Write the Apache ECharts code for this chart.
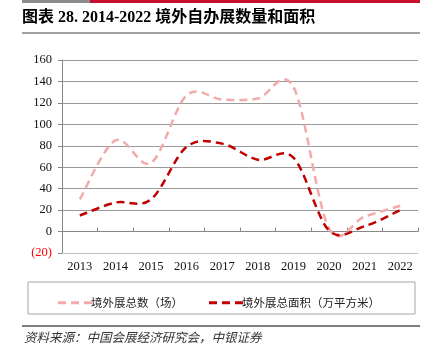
<!DOCTYPE html>
<html><head><meta charset="utf-8">
<script src="https://cdn.jsdelivr.net/npm/echarts@6/dist/echarts.min.js"></script>
<style>html,body{margin:0;padding:0;background:#fff}#c{width:430px;height:358px}</style>
</head><body><div id="c"></div>
<script>
const years = ['2013','2014','2015','2016','2017','2018','2019','2020','2021','2022'];
const countSeries = [30, 85, 64, 127, 123, 124, 135, 3, 14, 24];
const areaSeries = [15, 27, 30, 79, 82, 67, 69, 1, 5, 20];
const yTicks = {min: -20, max: 160, interval: 20};
const nameCount = '境外展总数（场）';
const nameArea = '境外展总面积（万平方米）';
const titleText = '图表 28. 2014-2022 境外自办展数量和面积';
const sourceText = '资料来源：中国会展经济研究会，中银证券';

const serif = "'Liberation Serif','Times New Roman','Noto Sans CJK SC',serif";
const cjk = "'Noto Sans CJK SC',sans-serif";
const PINK = '#f2aaaa', RED = '#c00000';
const dashIcon = 'path://M0 0H8V3H0Z M13 0H21V3H13Z M26 0H34V3H26Z';

// smooth (Catmull-Rom style) curve through the data points, placed via the chart's axes
function smoothRender(values, color) {
  return function (params, api) {
    if (params.dataIndex !== 0) return null;
    const pts = values.map((v, i) => api.coord([i, v]));
    let d = 'M' + pts[0][0] + ' ' + pts[0][1];
    for (let i = 0; i < pts.length - 1; i++) {
      const p0 = pts[Math.max(i - 1, 0)], p1 = pts[i], p2 = pts[i + 1], p3 = pts[Math.min(i + 2, pts.length - 1)];
      const c1x = p1[0] + (p2[0] - p0[0]) / 6, c1y = p1[1] + (p2[1] - p0[1]) / 6;
      const c2x = p2[0] - (p3[0] - p1[0]) / 6, c2y = p2[1] - (p3[1] - p1[1]) / 6;
      d += ' C' + c1x + ' ' + c1y + ' ' + c2x + ' ' + c2y + ' ' + p2[0] + ' ' + p2[1];
    }
    return {type: 'path', shape: {pathData: d},
      style: {fill: 'none', stroke: color, lineWidth: 2.5, lineDash: [8, 5]}, silent: true};
  };
}

const chart = echarts.init(document.getElementById('c'), null, {renderer:'canvas'});
chart.setOption({
  animation: false,
  grid: {left: 62, right: 12, top: 60, bottom: 105},
  graphic: [
    {type:'rect', shape:{x:22,y:0,width:68,height:3}, style:{fill:'#8c8c8c'}},
    {type:'rect', shape:{x:90,y:0,width:330,height:3}, style:{fill:'#c8102e'}},
    {type:'text', left:22, top:10, style:{text:titleText, font:"bold 16px "+serif, fill:'#000'}},
    {type:'line', shape:{x1:22,y1:33,x2:420,y2:33}, style:{stroke:'#444', lineWidth:1}},
    {type:'rect', shape:{x:28,y:282,width:387,height:32}, style:{fill:'none', stroke:'#a6a6a6', lineWidth:1}},
    {type:'line', shape:{x1:22,y1:326,x2:420,y2:326}, style:{stroke:'#000', lineWidth:1.2}},
    {type:'text', left:24, top:331, style:{text:sourceText, font:"italic 12.5px "+cjk, fill:'#333'}}
  ],
  legend: {
    left: 53, top: 292, itemWidth: 34, itemHeight: 3, itemGap: 26,
    textStyle: {fontFamily: cjk, fontSize: 11.5, color:'#222', padding:[0,0,0,-6]},
    data: [{name: nameCount, icon: dashIcon, itemStyle:{color:PINK}},
           {name: nameArea, icon: dashIcon, itemStyle:{color:RED}}]
  },
  xAxis: [{
    type: 'category', data: years, boundaryGap: true,
    axisLine: {onZero: false, lineStyle: {color: '#c8c8c8', type:'dotted', width:1}},
    axisTick: {show: false},
    axisLabel: {fontFamily: serif, fontSize: 12.5, color: '#111', margin: 7}
  }, {
    type: 'category', data: years, boundaryGap: true,
    axisLine: {onZero: true, lineStyle: {color: '#888', width:1}},
    axisTick: {show: true, length: 4, lineStyle:{color:'#888'}},
    axisLabel: {show: false}
  }],
  yAxis: {
    type: 'value', min: yTicks.min, max: yTicks.max, interval: yTicks.interval,
    axisLine: {show: true, lineStyle: {color: '#888'}},
    axisTick: {show: true, length: 4, lineStyle:{color:'#888'}},
    splitLine: {lineStyle: {color: '#9a9a9a', width: 1}},
    axisLabel: {
      fontFamily: serif, fontSize: 12.5, margin: 10,
      formatter: v => v < 0 ? '(' + (-v) + ')' : String(v),
      color: v => (Number(v) < 0 ? '#ff0000' : '#111')
    }
  },
  series: [{
    name: nameCount, type: 'custom', renderItem: smoothRender(countSeries, PINK),
    data: countSeries.map((v, i) => [i, v]), encode: {x: 0, y: 1},
    itemStyle: {color: PINK}
  }, {
    name: nameArea, type: 'custom', renderItem: smoothRender(areaSeries, RED),
    data: areaSeries.map((v, i) => [i, v]), encode: {x: 0, y: 1},
    itemStyle: {color: RED}
  }]
});
</script></body></html>
